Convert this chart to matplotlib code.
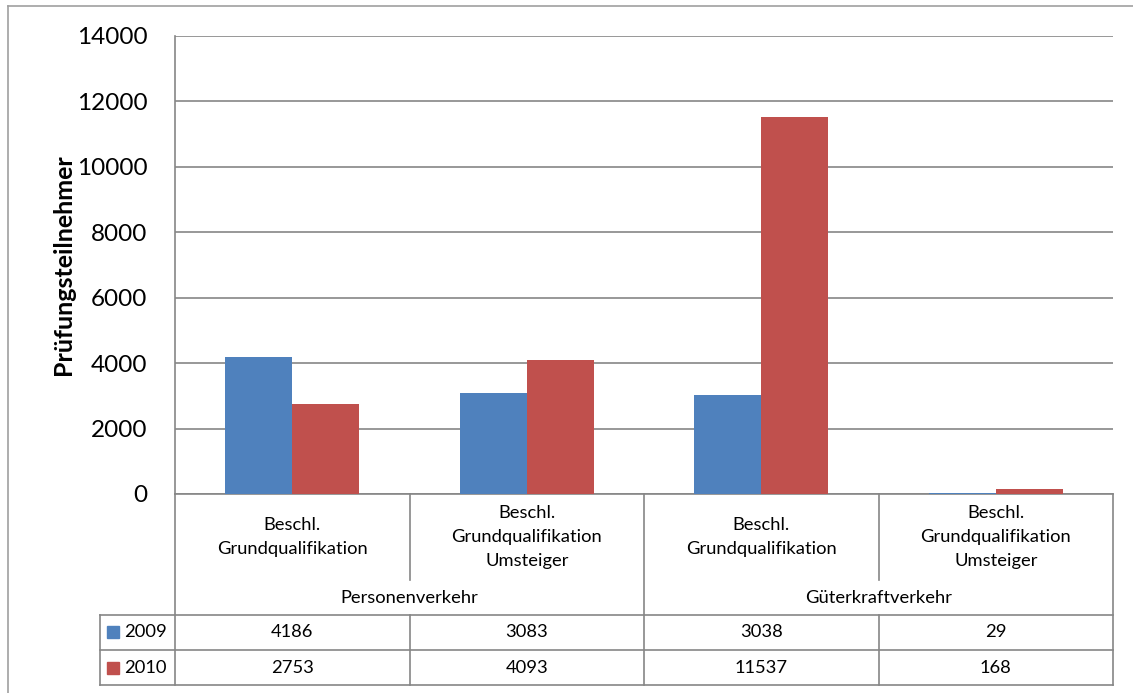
import matplotlib
matplotlib.use("Agg")
import matplotlib.pyplot as plt
from matplotlib.transforms import blended_transform_factory
import numpy as np

plt.rcParams['font.family'] = ['Lato', 'DejaVu Sans']

categories = ["Beschl.\nGrundqualifikation", "Beschl.\nGrundqualifikation\nUmsteiger",
              "Beschl.\nGrundqualifikation", "Beschl.\nGrundqualifikation\nUmsteiger"]
groups = ["Personenverkehr", "Güterkraftverkehr"]
series_names = ["2009", "2010"]
values_2009 = [4186, 3083, 3038, 29]
values_2010 = [2753, 4093, 11537, 168]
colors = ["#4F81BD", "#C0504D"]
yticks = [0, 2000, 4000, 6000, 8000, 10000, 12000, 14000]

W, H = 1133, 693
fig = plt.figure(figsize=(W / 100, H / 100), dpi=100)

def fy(py):
    return 1 - py / H

def fx(px):
    return px / W

L, R, T, B = 175, 1113, 36, 494
ax = fig.add_axes([fx(L), fy(B), fx(R) - fx(L), fy(T) - fy(B)])
x = np.arange(len(categories))
bw = 0.285
ax.bar(x - bw / 2, values_2009, bw, color=colors[0], zorder=3)
ax.bar(x + bw / 2, values_2010, bw, color=colors[1], zorder=3)
ax.set_xlim(-0.5, len(categories) - 0.5)
ax.set_ylim(0, 14000)
ax.set_yticks(yticks)
ax.set_yticklabels([str(v) for v in yticks], fontsize=17.5)
ax.set_xticks([])
ax.yaxis.grid(True, color="#868686", linewidth=1.2, zorder=0)
ax.tick_params(axis='y', length=0, pad=20)
for s in ["top", "right"]:
    ax.spines[s].set_visible(False)
for s in ["left", "bottom"]:
    ax.spines[s].set_color("#868686")
    ax.spines[s].set_linewidth(1.2)
ax.set_ylabel("Prüfungsteilnehmer", fontsize=18, fontweight="bold", labelpad=1)

# data table below
tr = blended_transform_factory(ax.transData, fig.transFigure)
lc = "#868686"
lw = 1.2
def hline(py, x0, x1):
    fig.add_artist(plt.Line2D([x0, x1], [fy(py), fy(py)], transform=tr, color=lc, lw=lw))
def vline(xd, y0, y1):
    fig.add_artist(plt.Line2D([xd, xd], [fy(y0), fy(y1)], transform=tr, color=lc, lw=lw))

xl = -0.5 - (L - 100) / ((R - L) / 4)
n = len(categories)
vline(-0.5, B, 685)
vline(n - 0.5, B, 685)
vline(1.5, B, 685)
for d in [0.5, 2.5]:
    vline(d, B, 580)
    vline(d, 615, 685)
vline(xl, 615, 685)
for py in [615, 650, 685]:
    hline(py, xl, n - 0.5)

fs = 13.2
for i, c in enumerate(categories):
    fig.text(i, fy(537), c, transform=tr, ha="center", va="center", fontsize=fs,
             linespacing=1.65)
for g, gi in enumerate(groups):
    fig.text(2 * g + 0.5, fy(598), gi, transform=tr, ha="center", va="center", fontsize=fs)

for r, (name, vals, col) in enumerate(zip(series_names, [values_2009, values_2010], colors)):
    yc = 632 + 36 * r
    for i, v in enumerate(vals):
        fig.text(i, fy(yc), str(v), transform=tr, ha="center", va="center", fontsize=fs)
    fig.add_artist(plt.Rectangle((fx(107), fy(yc + 6)), fx(12), 12 / H, color=col,
                                 transform=fig.transFigure))
    fig.text(fx(124), fy(yc), name, ha="left", va="center", fontsize=fs)

# outer frame lines
fig.add_artist(plt.Line2D([fx(8), 1], [fy(6), fy(6)], transform=fig.transFigure, color="#A0A0A0", lw=1.2))
fig.add_artist(plt.Line2D([fx(8), fx(8)], [fy(6), 0], transform=fig.transFigure, color="#A0A0A0", lw=1.2))

fig.savefig("out.png", dpi=100)
